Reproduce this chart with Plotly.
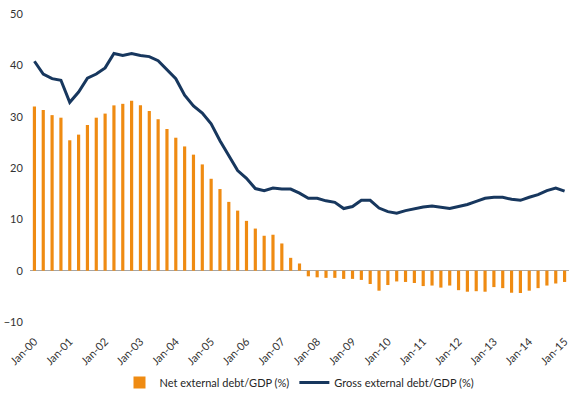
import plotly.graph_objects as go

months = ["Jan", "Apr", "Jul", "Oct"]
years = list(range(2000, 2016))
quarters = [f"{m}-{y % 100:02d}" for y in years for m in months][:61]

net_debt = [32.0, 31.3, 30.3, 29.8, 25.4, 26.5, 28.4, 29.8, 30.6, 32.2,
            32.5, 33.1, 32.2, 31.1, 29.5, 27.6, 25.9, 24.2, 22.6, 20.7,
            17.9, 15.9, 13.4, 11.7, 9.7, 8.2, 6.8, 7.0, 5.3, 2.5,
            1.4, -1.1, -1.3, -1.4, -1.4, -1.6, -1.6, -1.8, -2.6, -3.9,
            -2.8, -2.1, -2.2, -2.4, -3.0, -2.9, -3.3, -2.9, -3.8, -4.1,
            -4.0, -4.1, -3.2, -3.4, -4.3, -4.35, -3.9, -3.4, -2.9, -2.5,
            -2.2]

gross_debt = [40.8, 38.3, 37.4, 37.1, 32.8, 34.8, 37.5, 38.3, 39.5, 42.3,
              41.9, 42.3, 41.9, 41.7, 40.9, 39.2, 37.4, 34.2, 32.1, 30.7,
              28.6, 25.3, 22.5, 19.5, 18.0, 16.0, 15.6, 16.1, 15.9, 15.9,
              15.1, 14.1, 14.1, 13.6, 13.3, 12.1, 12.5, 13.7, 13.7, 12.2,
              11.5, 11.2, 11.7, 12.1, 12.4, 12.6, 12.4, 12.1, 12.5, 12.9,
              13.5, 14.1, 14.3, 14.3, 13.9, 13.7, 14.3, 14.8, 15.6, 16.1,
              15.5]

tick_labels = [q for q in quarters if q.startswith("Jan")]
y_ticks = [-10, 0, 10, 20, 30, 40, 50]

fig = go.Figure()
fig.add_trace(go.Bar(
    x=quarters, y=net_debt, name="Net external debt/GDP (%)",
    marker=dict(color="#EF8B12", line=dict(width=0)),
))
fig.add_trace(go.Scatter(
    x=quarters, y=gross_debt, name="Gross external debt/GDP (%)",
    mode="lines", line=dict(color="#17375E", width=3),
))

fig.update_layout(
    width=586, height=399,
    margin=dict(l=30, r=17, t=14, b=77, autoexpand=False),
    paper_bgcolor="white", plot_bgcolor="white",
    font=dict(family="Lato, Carlito, Liberation Sans, sans-serif", size=11, color="#333333"),
    bargap=0.64,
    showlegend=True,
    legend=dict(orientation="h", x=0.5, xanchor="center", y=-0.149, yanchor="top",
                font=dict(size=11, color="#262626"), itemwidth=30,
                tracegroupgap=0),
    xaxis=dict(
        type="category", categoryorder="array", categoryarray=quarters,
        tickmode="array", tickvals=tick_labels, ticktext=tick_labels,
        tickangle=-45, showgrid=False, showline=False, zeroline=False,
        ticks="outside", ticklen=8, tickcolor="rgba(0,0,0,0)",
        range=[-0.5, 60.5], automargin=False,
    ),
    yaxis=dict(
        range=[-10, 50], tickvals=y_ticks, showgrid=False, showline=False,
        zeroline=True, zerolinecolor="#A6A6A6", zerolinewidth=1,
        ticks="outside", ticklen=4, tickcolor="rgba(0,0,0,0)",
        automargin=False,
    ),
)

fig.write_html(
    "out.html",
    config={"displayModeBar": False},
    post_script="document.body.style.margin='0';document.body.style.overflow='hidden';",
)
